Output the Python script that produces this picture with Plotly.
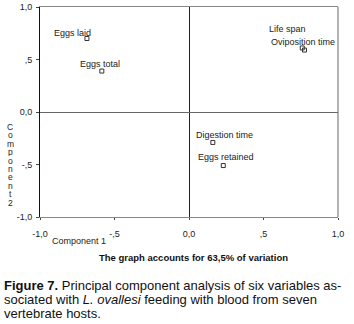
import plotly.graph_objects as go

variables = ["Eggs laid", "Eggs total", "Life span", "Oviposition time", "Digestion time", "Eggs retained"]
comp1 = [-0.685, -0.585, 0.76, 0.775, 0.16, 0.23]
comp2 = [0.70, 0.39, 0.61, 0.59, -0.29, -0.51]

tick_vals = [-1.0, -0.5, 0.0, 0.5, 1.0]
y_tick_text = ["-1,0", "-,5", "0,0", ",5", "1,0"]
x_tick_text = ["-1,0", "-,5", "0,0", ",5", "1,0"]

y_title = "Component2"
x_title = "Component 1"
subtitle = "The graph accounts for 63,5% of variation"
caption_lines = [
    "<b>Figure 7.</b> Principal component analysis of six variables as-",
    "sociated with <i>L. ovallesi</i> feeding with blood from seven",
    "vertebrate hosts.",
]

# label placement (pixel offsets relative to marker)
label_style = {
    "Eggs laid": dict(xanchor="right", xshift=6, yshift=6),
    "Eggs total": dict(xanchor="center", xshift=-2, yshift=7),
    "Life span": dict(xanchor="left", xshift=-35, yshift=19),
    "Oviposition time": dict(xanchor="left", xshift=-35, yshift=8),
    "Digestion time": dict(xanchor="left", xshift=-19, yshift=7),
    "Eggs retained": dict(xanchor="left", xshift=-27, yshift=9),
}

FONT = "Liberation Sans, Arial, sans-serif"
L, R, T, B = 40, 16, 7, 107
W, H = 354, 324
PW, PH = W - L - R, H - T - B


def px(x, y):
    """pixel (from top-left of figure) -> paper coords"""
    return (x - L) / PW, (H - B - y) / PH


fig = go.Figure()
fig.add_trace(go.Scatter(
    x=comp1, y=comp2, mode="markers",
    marker=dict(symbol="square-open", size=4, color="#333", line=dict(width=1)),
    showlegend=False, hoverinfo="skip",
))

annotations = []
for name, xv, yv in zip(variables, comp1, comp2):
    s = label_style[name]
    annotations.append(dict(
        x=xv, y=yv, xref="x", yref="y", text=name, showarrow=False,
        xanchor=s["xanchor"], yanchor="middle", xshift=s["xshift"], yshift=s["yshift"],
        font=dict(family=FONT, size=9, color="#222"),
    ))

# stacked vertical y-axis title
for i, ch in enumerate(y_title):
    xp, yp = px(10, 127 + i * 8.4)
    annotations.append(dict(
        x=xp, y=yp, xref="paper", yref="paper", text=ch, showarrow=False,
        xanchor="center", yanchor="middle", height=8,
        font=dict(family=FONT, size=8.5, color="#222"),
    ))

xp, yp = px(50, 241)
annotations.append(dict(
    x=xp, y=yp, xref="paper", yref="paper", text=x_title, showarrow=False,
    xanchor="left", yanchor="middle",
    font=dict(family=FONT, size=9, color="#222"),
))
xp, yp = px(193, 257)
annotations.append(dict(
    x=xp, y=yp, xref="paper", yref="paper", text="<b>" + subtitle + "</b>",
    showarrow=False, xanchor="center", yanchor="middle",
    font=dict(family=FONT, size=9.5, color="#111"),
))
for i, line in enumerate(caption_lines):
    xp, yp = px(2, 285 + i * 14)
    annotations.append(dict(
        x=xp, y=yp, xref="paper", yref="paper", text=line, showarrow=False,
        xanchor="left", yanchor="middle", align="left",
        font=dict(family=FONT, size=13, color="#111"),
    ))

fig.update_layout(
    width=W, height=H,
    margin=dict(l=L, r=R, t=T, b=B, autoexpand=False),
    paper_bgcolor="white", plot_bgcolor="white",
    annotations=annotations,
    xaxis=dict(range=[-1, 1], tickvals=tick_vals, ticktext=x_tick_text, automargin=False,
               showgrid=False, zeroline=True, zerolinecolor="#222", zerolinewidth=1,
               showline=True, linecolor="#888", linewidth=1, mirror=True,
               ticks="outside", ticklen=2, tickcolor="#444", ticklabelstandoff=6,
               tickfont=dict(family=FONT, size=9, color="#222")),
    yaxis=dict(range=[-1, 1], tickvals=tick_vals, ticktext=y_tick_text, automargin=False,
               showgrid=False, zeroline=True, zerolinecolor="#666", zerolinewidth=1,
               showline=True, linecolor="#111", linewidth=1, mirror=False,
               ticks="outside", ticklen=3, tickcolor="#444", ticklabelstandoff=2,
               tickfont=dict(family=FONT, size=9, color="#222")),
    shapes=[dict(type="line", xref="paper", yref="paper", x0=1, x1=1, y0=0, y1=1,
                 line=dict(color="#666", width=1))],
)

fig.write_html("out.html", config={"displayModeBar": False},
               post_script="document.body.style.margin='0';")
